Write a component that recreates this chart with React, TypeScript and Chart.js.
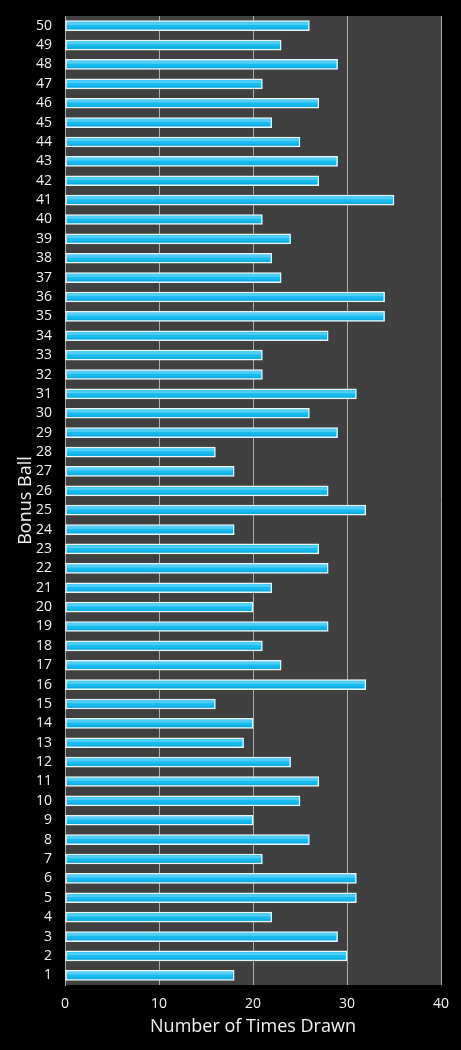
import React, { useEffect, useRef } from "react";
import { Chart, registerables } from "chart.js";

Chart.register(...registerables);

const categories: string[] = Array.from({ length: 50 }, (_, i) => String(i + 1));
const timesDrawn: number[] = [
  18, 30, 29, 22, 31, 31, 21, 26, 20, 25,
  27, 24, 19, 20, 16, 32, 23, 21, 28, 20,
  22, 28, 27, 18, 32, 28, 18, 16, 29, 26,
  31, 21, 21, 28, 34, 34, 23, 22, 24, 21,
  35, 27, 29, 25, 22, 27, 21, 29, 23, 26,
];
const xTicks: number[] = [0, 10, 20, 30, 40];

const FONT = "'Open Sans', 'DejaVu Sans', sans-serif";

const plotBg = {
  id: "plotBg",
  beforeDraw(chart: any) {
    const { ctx, chartArea } = chart;
    ctx.save();
    ctx.fillStyle = "#404040";
    ctx.fillRect(chartArea.left, chartArea.top, chartArea.right - chartArea.left, chartArea.bottom - chartArea.top);
    ctx.restore();
  },
};

const barShine = {
  id: "barShine",
  afterDatasetsDraw(chart: any) {
    const { ctx } = chart;
    const meta = chart.getDatasetMeta(0);
    ctx.save();
    meta.data.forEach((el: any) => {
      const top = el.y - el.height / 2;
      const left = el.base;
      const w = el.x - el.base;
      const h = el.height;
      ctx.fillStyle = "rgba(140,225,252,0.5)";
      ctx.fillRect(left + 1.5, top + 1.5, Math.max(0, w - 3), h * 0.28);
      ctx.fillStyle = "rgba(0,130,190,0.3)";
      ctx.fillRect(left + 1.5, top + h * 0.72, Math.max(0, w - 3), h * 0.28 - 1.5);
    });
    ctx.restore();
  },
};

export default function App() {
  const ref = useRef<HTMLCanvasElement>(null);
  useEffect(() => {
    if (!ref.current) return;
    const chart = new Chart(ref.current, {
      type: "bar",
      data: {
        labels: categories,
        datasets: [
          {
            data: timesDrawn,
            backgroundColor: "#16bbef",
            borderColor: "#e8f5fa",
            borderWidth: 1.5,
            borderSkipped: false,
            barThickness: 10,
          },
        ],
      },
      options: {
        indexAxis: "y",
        animation: false,
        responsive: false,
        maintainAspectRatio: false,
        layout: { padding: { top: 16, right: 20, left: 0, bottom: 0 } },
        plugins: { legend: { display: false }, tooltip: { enabled: false } },
        scales: {
          x: {
            min: 0,
            max: 40,
            afterBuildTicks: (scale: any) => {
              scale.ticks = xTicks.map((v) => ({ value: v }));
            },
            afterFit: (scale: any) => {
              scale.height = 65;
              scale.paddingLeft = 0;
              scale.paddingRight = 0;
            },
            grid: { color: "#ababab", lineWidth: 1, drawTicks: false },
            border: { display: false },
            ticks: { color: "#f2f2f2", font: { family: FONT, size: 14 }, padding: 11 },
            title: {
              display: true,
              text: "Number of Times Drawn",
              color: "#f2f2f2",
              font: { family: FONT, size: 18 },
              padding: { top: 12, bottom: 12 },
            },
          },
          y: {
            reverse: true,
            afterFit: (scale: any) => {
              scale.width = 65;
              scale.paddingTop = 0;
              scale.paddingBottom = 0;
            },
            grid: { display: false, drawTicks: false },
            border: { display: true, color: "#ababab", width: 1 },
            ticks: { color: "#f2f2f2", font: { family: FONT, size: 14 }, padding: 13, autoSkip: false },
            title: {
              display: true,
              text: "Bonus Ball",
              color: "#f2f2f2",
              font: { family: FONT, size: 18 },
              padding: { top: 15, bottom: 15 },
            },
          },
        },
      },
      plugins: [plotBg, barShine],
    });
    return () => chart.destroy();
  }, []);
  return (
    <div style={{ position: "absolute", left: 0, top: 0, width: 461, height: 1050, background: "#000" }}>
      <canvas ref={ref} width={461} height={1050} style={{ display: "block", width: 461, height: 1050 }} />
    </div>
  );
}
